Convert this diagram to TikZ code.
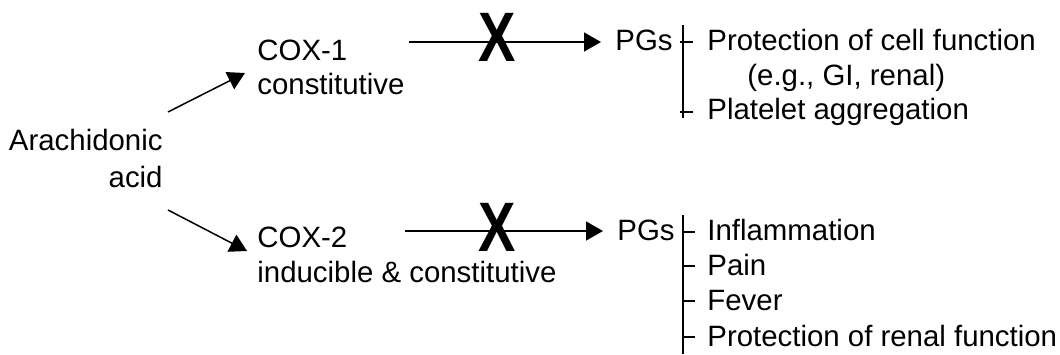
\documentclass[tikz,border=0pt]{standalone}
\usepackage{fontspec}
\setmainfont{Liberation Sans}
\usetikzlibrary{arrows.meta}
\begin{document}
\begin{tikzpicture}[x=0.5pt,y=-0.5pt,
  txt/.style={inner sep=0pt,anchor=base west,font=\fontsize{14.7}{17.5}\selectfont},
  txtr/.style={txt,anchor=base east},
  cross/.style={inner sep=0pt,anchor=center,font=\fontsize{35}{36}\selectfont\bfseries,xscale=0.8},
  conn/.style={line width=0.75pt,-{Triangle[length=8.5pt,width=9.5pt]}},
  brk/.style={line width=0.75pt}]
\useasboundingbox (0,0) rectangle (1060,354);
% source
\node[txtr] (aa1) at (163,150) {Arachidonic};
\node[txtr] (aa2) at (163,187) {acid};
% enzymes
\node[txt] (cox1) at (257,60) {COX-1};
\node[txt] (cox1b) at (257,94) {constitutive};
\node[txt] (cox2) at (257,247) {COX-2};
\node[txt] (cox2b) at (257,282) {inducible \& constitutive};
% products
\node[txt] (pg1) at (615,50) {PGs};
\node[txt] (pg2) at (617,240) {PGs};
% effects
\node[txt] (e1) at (707,50) {Protection of cell function};
\node[txt] (e1b) at (747,85) {(e.g., GI, renal)};
\node[txt] (e2) at (707,119) {Platelet aggregation};
\node[txt] (f1) at (707,240) {Inflammation};
\node[txt] (f2) at (707,275) {Pain};
\node[txt] (f3) at (707,310) {Fever};
\node[txt] (f4) at (707,346) {Protection of renal function};
% coordinates
\coordinate (d1s) at (168,112);
\coordinate (d1e) at (245,73);
\coordinate (d2s) at (168,210);
\coordinate (d2e) at (247,251);
\coordinate (h1s) at (409,42);
\coordinate (h1e) at (601,42);
\coordinate (h2s) at (405,231);
\coordinate (h2e) at (603,231);
% connectors
\draw[conn] (d1s) -- (d1e);
\draw[conn] (d2s) -- (d2e);
\draw[conn] (h1s) -- (h1e);
\draw[conn] (h2s) -- (h2e);
% block marks
\node[cross] (x1) at (497.5,37.5) {X};
\node[cross] (x2) at (497.5,227.5) {X};
% brackets
\coordinate (b1t) at (683,25);
\coordinate (b1b) at (683,118);
\draw[brk] (b1t) -- (b1b);
\draw[brk] (680,42) -- (693,42);
\draw[brk] (680,112) -- (693,112);
\coordinate (b2t) at (683,215);
\coordinate (b2b) at (683,354);
\draw[brk] (b2t) -- (b2b);
\draw[brk] (683,232) -- (695,232);
\draw[brk] (683,266) -- (695,266);
\draw[brk] (683,301) -- (695,301);
\draw[brk] (683,337) -- (695,337);
\end{tikzpicture}
\end{document}
